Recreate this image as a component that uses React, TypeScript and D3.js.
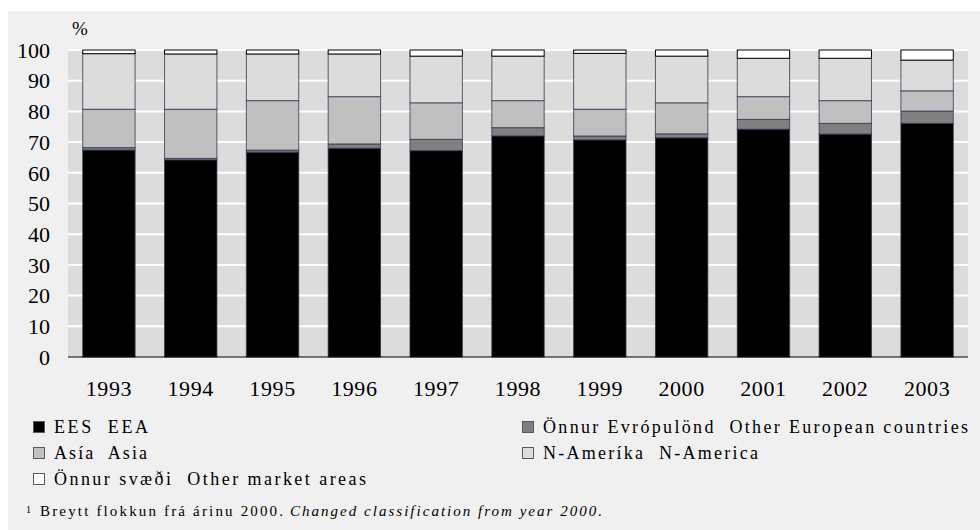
import { useEffect, useRef } from 'react';
import * as d3 from 'd3';

const years = ['1993', '1994', '1995', '1996', '1997', '1998', '1999', '2000', '2001', '2002', '2003'];
const eea = [67.4, 64.2, 66.7, 68.0, 67.2, 72.0, 70.7, 71.4, 74.2, 72.6, 76.1];
const otherEurope = [0.8, 0.5, 0.7, 1.4, 3.7, 2.7, 1.3, 1.3, 3.2, 3.5, 4.0];
const asia = [12.5, 16.0, 16.1, 15.4, 11.9, 8.8, 8.7, 10.1, 7.4, 7.4, 6.6];
const nAmerica = [18.1, 18.0, 15.2, 13.9, 15.2, 14.5, 18.2, 15.2, 12.5, 13.8, 10.0];
const otherAreas = [1.2, 1.3, 1.3, 1.3, 2.0, 2.0, 1.1, 2.0, 2.7, 2.7, 3.3];
const yTicks = [0, 10, 20, 30, 40, 50, 60, 70, 80, 90, 100];

const seriesNames = ['EES  EEA', 'Önnur Evrópulönd  Other European countries', 'Asía  Asia', 'N-Ameríka  N-America', 'Önnur svæði  Other market areas'];
const seriesValues = [eea, otherEurope, asia, nAmerica, otherAreas];
const colors = ['#000000', '#808080', '#c0c0c0', '#dcdcdc', '#ffffff'];

const font = '"Liberation Serif", "Times New Roman", serif';

const App = () => {
  const ref = useRef<SVGSVGElement>(null);

  useEffect(() => {
    const svg = d3.select(ref.current);
    svg.selectAll('*').remove();

    const left = 68, right = 968, top = 50, bottom = 357;

    svg.append('rect').attr('x', 8).attr('y', 11).attr('width', 972).attr('height', 519).attr('fill', '#f0f0f0');

    const x = d3.scaleBand().domain(years).range([left, right]).paddingInner(0.36).paddingOuter(0.18);
    const y = d3.scaleLinear().domain([0, 100]).range([bottom, top]);

    svg.append('rect').attr('x', left).attr('y', top).attr('width', right - left).attr('height', bottom - top).attr('fill', '#dcdcdc');

    // gridlines
    svg.append('g').selectAll('line').data(yTicks.filter(d => d > 0)).enter().append('line')
      .attr('x1', left).attr('x2', right)
      .attr('y1', d => y(d)).attr('y2', d => y(d))
      .attr('stroke', '#ffffff').attr('stroke-width', 2);

    // stacked data
    const rows = years.map((yr, i) => {
      const r: any = { year: yr };
      seriesValues.forEach((s, k) => { r['s' + k] = s[i]; });
      return r;
    });
    const stack = d3.stack().keys(seriesValues.map((_, k) => 's' + k));
    const layers = stack(rows);

    svg.append('g').selectAll('g').data(layers).enter().append('g')
      .attr('fill', (_, k) => colors[k])
      .attr('stroke', (_, k) => (k === 4 ? '#000000' : '#27324d'))
      .attr('stroke-opacity', (_, k) => (k === 4 ? 1 : 0.75))
      .attr('stroke-width', 1)
      .selectAll('rect').data(d => d).enter().append('rect')
      .attr('x', (d: any) => x(d.data.year)!)
      .attr('width', x.bandwidth())
      .attr('y', d => y(d[1]))
      .attr('height', d => y(d[0]) - y(d[1]));

    // baseline
    svg.append('line').attr('x1', left).attr('x2', right).attr('y1', bottom).attr('y2', bottom)
      .attr('stroke', '#000').attr('stroke-width', 1);

    // y axis labels
    svg.append('g').selectAll('text').data(yTicks).enter().append('text')
      .attr('x', 50).attr('y', d => y(d)).attr('dy', '0.35em')
      .attr('text-anchor', 'end').attr('font-family', font).attr('font-size', 22)
      .text(d => d);

    svg.append('text').attr('x', 72).attr('y', 35).attr('font-family', font).attr('font-size', 19).text('%');

    // x axis labels
    svg.append('g').selectAll('text').data(years).enter().append('text')
      .attr('x', d => x(d)! + x.bandwidth() / 2).attr('y', 396)
      .attr('text-anchor', 'middle').attr('font-family', font).attr('font-size', 22)
      .attr('letter-spacing', 0.6)
      .text(d => d);

    // legend
    const legendPos = [[33, 433], [522, 433], [33, 459], [522, 459], [33, 485]];
    const legendWidth = [94, 425, 93, 215, 312];
    const lg = svg.append('g').selectAll('g').data(seriesNames).enter().append('g')
      .attr('transform', (_, i) => `translate(${legendPos[i][0]},${legendPos[i][1]})`);
    lg.append('rect').attr('x', 0.5).attr('y', -11.5).attr('width', 11).attr('height', 11)
      .attr('fill', (_, i) => colors[i]).attr('stroke', '#555a66').attr('stroke-width', 1);
    lg.append('text').attr('x', 21).attr('y', 0)
      .attr('font-family', font).attr('font-size', 18)
      .attr('textLength', (_, i) => legendWidth[i]).attr('lengthAdjust', 'spacing')
      .style('white-space', 'pre')
      .text(d => d);

    // footnote
    svg.append('text').attr('x', 26).attr('y', 513).attr('font-family', font).attr('font-size', 10).text('1');
    svg.append('text').attr('x', 40).attr('y', 516).attr('font-family', font).attr('font-size', 15)
      .attr('textLength', 243).attr('lengthAdjust', 'spacing')
      .text('Breytt flokkun frá árinu 2000.');
    svg.append('text').attr('x', 290).attr('y', 516).attr('font-family', font).attr('font-size', 15)
      .attr('font-style', 'italic').attr('textLength', 312).attr('lengthAdjust', 'spacing')
      .text('Changed classification from year 2000.');
  }, []);

  return (
    <svg ref={ref} width={980} height={530} style={{ position: 'absolute', left: 0, top: 0 }} />
  );
};

export default App;
